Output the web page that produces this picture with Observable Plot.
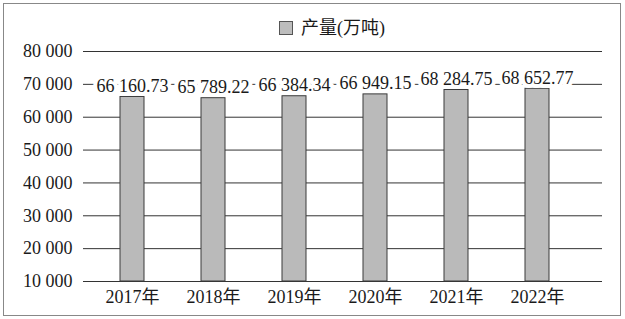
<!DOCTYPE html>
<html>
<head>
<meta charset="utf-8">
<script src="https://cdn.jsdelivr.net/npm/d3@7"></script>
<script src="https://cdn.jsdelivr.net/npm/@observablehq/plot@0.6"></script>
<style>
  html, body { margin: 0; padding: 0; background: #fff; }
  #wrap { position: relative; width: 625px; height: 319px; overflow: hidden; background: #fff;
          font-family: "Liberation Serif", "Noto Sans CJK SC", serif; color: #1a1a1a; }
  #frame { position: absolute; left: 3px; top: 3px; width: 618px; height: 313px; border: 1px solid #888; box-sizing: border-box; }
  #legend { position: absolute; left: 0; top: 0; width: 625px; height: 40px; }
  #legend .sw { position: absolute; left: 279px; top: 21px; width: 14px; height: 14px; background: #bdbdbd; border: 1px solid #555; box-sizing: border-box; }
  #legend .lab { position: absolute; left: 301px; top: 17px; font-size: 18px; line-height: 22px; }
  #chart { position: absolute; left: 0; top: 40px; }
</style>
</head>
<body>
<div id="wrap">
  <div id="frame"></div>
  <div id="legend"><div class="sw"></div><div class="lab">产量(万吨)</div></div>
  <div id="chart"></div>
</div>
<script>
const years = ["2017年", "2018年", "2019年", "2020年", "2021年", "2022年"];
const output = [66160.73, 65789.22, 66384.34, 66949.15, 68284.75, 68652.77];
const yTicks = [10000, 20000, 30000, 40000, 50000, 60000, 70000, 80000];
const seriesName = "产量(万吨)";

const data = years.map((y, i) => ({year: y, value: output[i]}));
const loc = d3.formatLocale({decimal: ".", thousands: " ", grouping: [3], currency: ["", ""]});
const fmtTick = loc.format(",");
const fmtVal = loc.format(",.2f");

const font = "\"Liberation Serif\", \"Noto Sans CJK SC\", serif";

const chart = Plot.plot({
  width: 625,
  height: 279,
  marginLeft: 83,
  marginRight: 23,
  marginTop: 11,
  marginBottom: 38,
  style: {background: "transparent", fontFamily: font, fontSize: "18px", color: "#1a1a1a"},
  x: {domain: years, paddingInner: 0.7, paddingOuter: 0.35, insetLeft: 7, insetRight: 22, label: null, tickSize: 0, tickPadding: 9},
  y: {domain: [10000, 80000], ticks: yTicks, tickFormat: fmtTick, label: null, tickSize: 0, tickPadding: 11},
  marks: [
    Plot.ruleY(yTicks, {stroke: "#333", strokeWidth: 1}),
    Plot.barY(data, {x: "year", y1: 10000, y2: "value", fill: "#bababa", stroke: "#3a3a3a", strokeWidth: 1}),
    Plot.text(data, {x: "year", y: "value", text: d => fmtVal(d.value), dy: -11, fontSize: 18, fill: "#1a1a1a", stroke: "white", strokeWidth: 8}),
    Plot.axisX({tickSize: 0, tickPadding: 9, fontSize: 18, label: null}),
    Plot.axisY({ticks: yTicks, tickFormat: fmtTick, tickSize: 0, tickPadding: 11, fontSize: 18, label: null})
  ]
});
document.getElementById("chart").appendChild(chart);
</script>
</body>
</html>
